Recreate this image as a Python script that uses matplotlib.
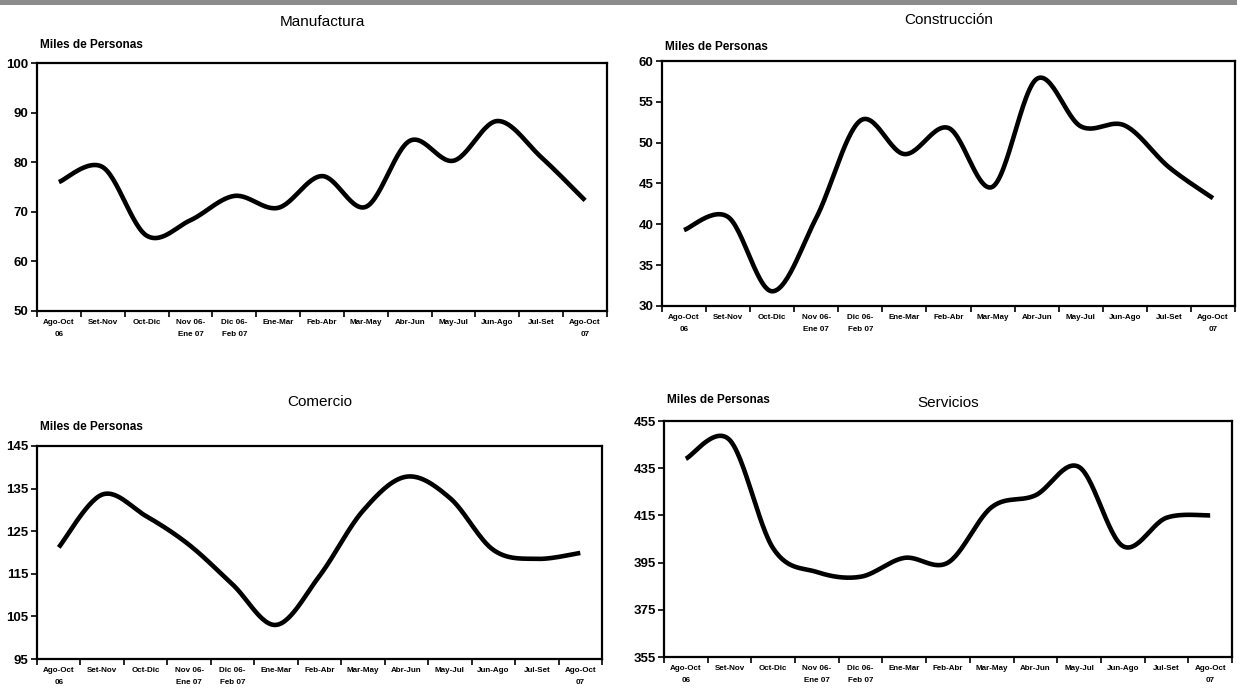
import numpy as np
import matplotlib
matplotlib.use("Agg")
import matplotlib.pyplot as plt
from matplotlib import font_manager

categories = ["Ago-Oct\n06", "Set-Nov", "Oct-Dic", "Nov 06-\nEne 07", "Dic 06-\nFeb 07",
              "Ene-Mar", "Feb-Abr", "Mar-May", "Abr-Jun", "May-Jul", "Jun-Ago",
              "Jul-Set", "Ago-Oct\n07"]

manufactura = [76.0, 79.0, 65.2, 68.3, 73.2, 70.8, 77.2, 71.0, 84.3, 80.3, 88.3, 81.0, 72.3]
construccion = [39.3, 40.9, 31.8, 40.8, 52.7, 48.6, 51.8, 44.6, 57.8, 52.0, 52.1, 47.0, 43.2]
comercio = [121.2, 133.6, 128.6, 121.8, 112.5, 103.0, 114.5, 129.8, 137.8, 132.8, 120.6, 118.5, 119.9]
servicios = [439.0, 447.0, 401.0, 391.0, 389.0, 397.0, 395.0, 418.5, 423.5, 435.5, 402.0, 414.0, 415.0]

titles = ["Manufactura", "Construcción", "Comercio", "Servicios"]
ylims = [(50, 100, 10), (30, 60, 5), (95, 145, 10), (355, 455, 20)]

avail = {f.name for f in font_manager.fontManager.ttflist}
fam = "Liberation Sans Narrow" if "Liberation Sans Narrow" in avail else "Liberation Sans"

def smooth(y, n=30):
    x = np.arange(len(y), dtype=float)
    y = np.asarray(y, dtype=float)
    xs, ys = [], []
    for i in range(len(y) - 1):
        p0 = np.array([x[max(i - 1, 0)], y[max(i - 1, 0)]])
        p1 = np.array([x[i], y[i]])
        p2 = np.array([x[i + 1], y[i + 1]])
        p3 = np.array([x[min(i + 2, len(y) - 1)], y[min(i + 2, len(y) - 1)]])
        c1 = p1 + (p2 - p0) / 6.0
        c2 = p2 - (p3 - p1) / 6.0
        t = np.linspace(0, 1, n)[:, None]
        pts = ((1 - t) ** 3) * p1 + 3 * ((1 - t) ** 2) * t * c1 + 3 * (1 - t) * t ** 2 * c2 + t ** 3 * p2
        xs.extend(pts[:, 0]); ys.extend(pts[:, 1])
    return np.array(xs), np.array(ys)

fig = plt.figure(figsize=(12.37, 6.92), dpi=100)
W, H = 1237.0, 692.0

# gray band at the top
fig.add_artist(plt.Rectangle((0, 1 - 5 / H), 1, 5 / H, transform=fig.transFigure,
                             color="#8c8c8c", lw=0))

boxes = [(37, 607, 63, 311), (662, 1235, 61, 306), (37, 602, 446, 659), (664, 1232, 421, 657)]
title_y = [22, 20, 402, 403]
miles_y = [45, 47, 427, 400]
series = [manufactura, construccion, comercio, servicios]

for k in range(4):
    l, r, t, b = boxes[k]
    ax = fig.add_axes([l / W, 1 - b / H, (r - l) / W, (b - t) / H])
    xs, ys = smooth(series[k])
    ax.plot(xs, ys, color="black", lw=3.3, solid_capstyle="butt")
    lo, hi, st = ylims[k]
    ax.set_ylim(lo, hi)
    ax.set_xlim(-0.5, len(categories) - 0.5)
    ax.set_yticks(np.arange(lo, hi + 0.1, st))
    ax.set_yticklabels([f"{v:g}" for v in np.arange(lo, hi + 0.1, st)],
                       fontsize=9.5, fontweight="bold", family=fam)
    ax.set_xticks(np.arange(-0.5, len(categories), 1.0))
    ax.set_xticklabels([])
    ax.set_xticks(np.arange(len(categories)), minor=True)
    ax.set_xticklabels(categories, minor=True, fontsize=5.8, fontweight="bold",
                       family=fam, linespacing=1.9)
    ax.tick_params(axis="x", which="minor", length=0, pad=6)
    ax.tick_params(axis="x", which="major", length=4, width=1.2, direction="out")
    ax.tick_params(axis="y", length=4, width=1.2, direction="out", pad=2)
    for s in ax.spines.values():
        s.set_linewidth(1.6)
        s.set_color("black")
    fig.text(((l + r) / 2) / W, 1 - title_y[k] / H, titles[k], ha="center", va="center",
             fontsize=11, family="Liberation Sans")
    fig.text((l + 3) / W, 1 - miles_y[k] / H, "Miles de Personas", ha="left", va="center",
             fontsize=8.5, fontweight="bold", family=fam)

fig.savefig("out.png", dpi=100)
